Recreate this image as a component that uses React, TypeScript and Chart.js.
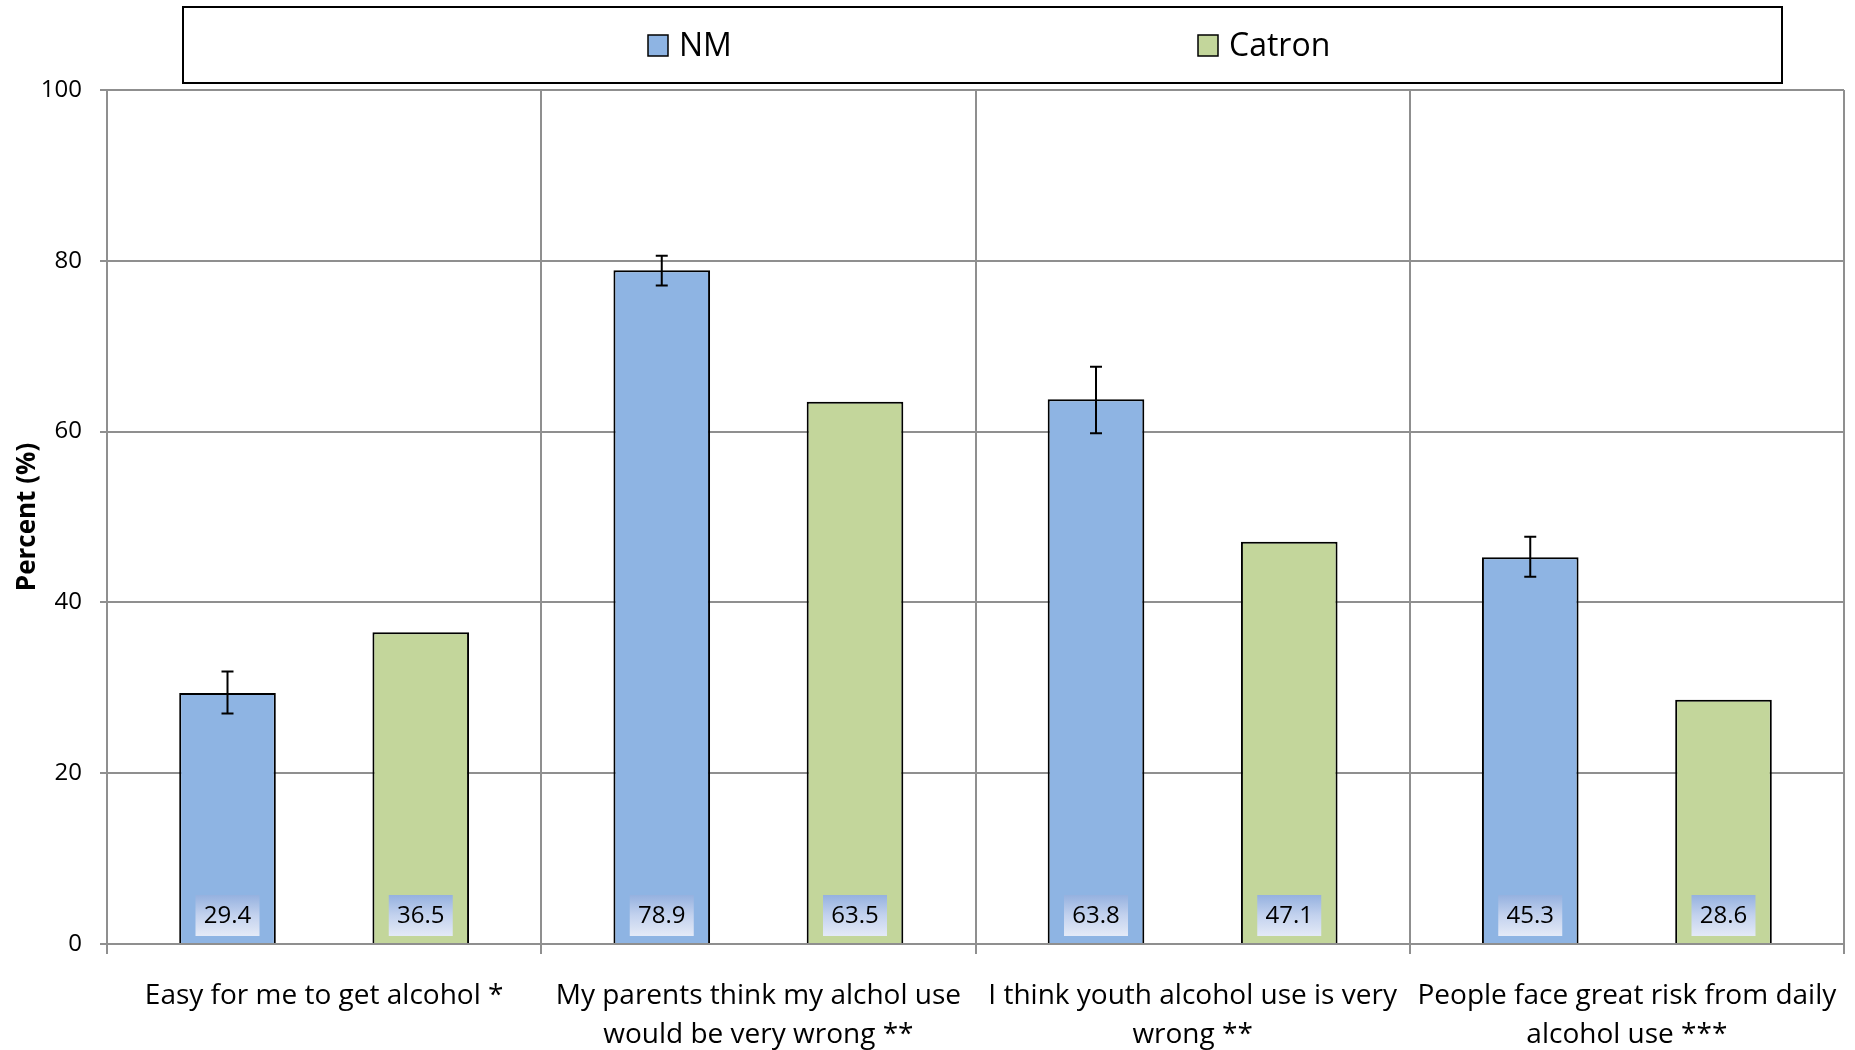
import React, { useEffect, useRef } from 'react';
import { Chart, registerables } from 'chart.js';

Chart.register(...registerables);

const categories: string[][] = [
  ['Easy for me to get alcohol *'],
  ['My parents think my alchol use', 'would be very wrong **'],
  ['I think youth alcohol use is very', 'wrong **'],
  ['People face great risk from daily', 'alcohol use ***'],
];
const seriesNames = ['NM', 'Catron'];
const nmValues = [29.4, 78.9, 63.8, 45.3];
const catronValues = [36.5, 63.5, 47.1, 28.6];
const nmErrLow = [27.0, 77.1, 59.8, 43.0];
const nmErrHigh = [31.9, 80.6, 67.6, 47.7];
const yTickValues = [0, 20, 40, 60, 80, 100];
const yTitle = 'Percent (%)';

const FONT = "'Open Sans', 'DejaVu Sans', sans-serif";
const NM_COLOR = '#8EB4E3';
const CATRON_COLOR = '#C3D69B';
const GRID = '#8f8f8f';

const errorBarPlugin = {
  id: 'errorBars',
  afterDatasetsDraw(chart: any) {
    const ctx = chart.ctx;
    const meta = chart.getDatasetMeta(0);
    const y = chart.scales.y;
    ctx.save();
    ctx.strokeStyle = '#000';
    ctx.lineWidth = 2;
    meta.data.forEach((bar: any, i: number) => {
      const x = bar.x;
      const yl = y.getPixelForValue(nmErrLow[i]);
      const yh = y.getPixelForValue(nmErrHigh[i]);
      ctx.beginPath();
      ctx.moveTo(x, yl);
      ctx.lineTo(x, yh);
      ctx.moveTo(x - 6, yl);
      ctx.lineTo(x + 6, yl);
      ctx.moveTo(x - 6, yh);
      ctx.lineTo(x + 6, yh);
      ctx.stroke();
    });
    ctx.restore();
  },
};

const valueLabelPlugin = {
  id: 'valueLabels',
  afterDatasetsDraw(chart: any) {
    const ctx = chart.ctx;
    const y0 = chart.scales.y.getPixelForValue(0);
    ctx.save();
    chart.data.datasets.forEach((ds: any, di: number) => {
      const meta = chart.getDatasetMeta(di);
      meta.data.forEach((bar: any, i: number) => {
        const w = 64;
        const h = 41;
        const left = bar.x - w / 2;
        const top = y0 - 8 - h;
        const g = ctx.createLinearGradient(0, top, 0, top + h);
        g.addColorStop(0, '#95b1df');
        g.addColorStop(0.5, '#c3d2ee');
        g.addColorStop(1, '#e4eaf7');
        ctx.fillStyle = g;
        ctx.fillRect(left, top, w, h);
        ctx.fillStyle = '#000';
        ctx.font = `24px ${FONT}`;
        ctx.textAlign = 'center';
        ctx.textBaseline = 'middle';
        ctx.fillText(ds.data[i].toFixed(1), bar.x, top + h / 2 + 1);
      });
    });
    ctx.restore();
  },
};

const legendPlugin = {
  id: 'boxLegend',
  afterDraw(chart: any) {
    const ctx = chart.ctx;
    ctx.save();
    ctx.fillStyle = '#fff';
    ctx.fillRect(183, 7, 1599, 76);
    ctx.strokeStyle = '#000';
    ctx.lineWidth = 2;
    ctx.strokeRect(183, 7, 1599, 76);
    const items = [
      { x: 648, color: NM_COLOR, label: seriesNames[0] },
      { x: 1198, color: CATRON_COLOR, label: seriesNames[1] },
    ];
    items.forEach((it) => {
      ctx.fillStyle = it.color;
      ctx.fillRect(it.x, 35, 20, 21);
      ctx.strokeStyle = '#000';
      ctx.lineWidth = 1.5;
      ctx.strokeRect(it.x, 35, 20, 21);
      ctx.fillStyle = '#000';
      ctx.font = `32px ${FONT}`;
      ctx.textAlign = 'left';
      ctx.textBaseline = 'middle';
      ctx.fillText(it.label, it.x + 31, 47);
    });
    ctx.restore();
  },
};

export default function App() {
  const ref = useRef<HTMLCanvasElement | null>(null);
  useEffect(() => {
    if (!ref.current) return;
    const chart = new Chart(ref.current, {
      type: 'bar',
      data: {
        labels: categories,
        datasets: [
          {
            label: seriesNames[0],
            data: nmValues,
            backgroundColor: NM_COLOR,
            borderColor: '#000',
            borderWidth: 2,
            categoryPercentage: 0.89,
            barPercentage: 0.5,
          },
          {
            label: seriesNames[1],
            data: catronValues,
            backgroundColor: CATRON_COLOR,
            borderColor: '#000',
            borderWidth: 2,
            categoryPercentage: 0.89,
            barPercentage: 0.5,
          },
        ],
      },
      options: {
        animation: false,
        responsive: false,
        maintainAspectRatio: false,
        devicePixelRatio: 1,
        layout: { padding: { top: 90, right: 11, left: 0, bottom: 0 } },
        plugins: {
          legend: { display: false },
          tooltip: { enabled: false },
        },
        scales: {
          x: {
            afterFit: (s: any) => {
              s.height = 106;
              s.paddingLeft = 0;
              s.paddingRight = 0;
            },
            grid: {
              display: true,
              offset: true,
              color: GRID,
              lineWidth: 2,
              drawTicks: true,
              tickLength: 10,
            },
            border: { display: true, color: GRID, width: 2 },
            ticks: {
              color: '#000',
              font: { family: FONT, size: 28, lineHeight: 1.39 },
              padding: 23,
              maxRotation: 0,
              autoSkip: false,
            },
          },
          y: {
            min: 0,
            max: 100,
            afterFit: (s: any) => {
              s.width = 107;
              s.paddingTop = 0;
              s.paddingBottom = 0;
            },
            afterBuildTicks: (s: any) => {
              s.ticks = yTickValues.map((v) => ({ value: v }));
            },
            grid: {
              color: GRID,
              lineWidth: 2,
              drawTicks: true,
              tickLength: 7,
            },
            border: { display: true, color: GRID, width: 2 },
            ticks: {
              color: '#000',
              font: { family: FONT, size: 24 },
              padding: 18,
            },
            title: {
              display: true,
              text: yTitle,
              color: '#000',
              font: { family: FONT, size: 26, weight: 'bold' },
              padding: { top: 12, bottom: 0 },
            },
          },
        },
      },
      plugins: [errorBarPlugin, valueLabelPlugin, legendPlugin],
    } as any);
    return () => chart.destroy();
  }, []);
  return (
    <div style={{ position: 'fixed', left: 0, top: 0, width: 1855, height: 1050, background: '#fff' }}>
      <canvas ref={ref} width={1855} height={1050} style={{ width: 1855, height: 1050, display: 'block' }} />
    </div>
  );
}
